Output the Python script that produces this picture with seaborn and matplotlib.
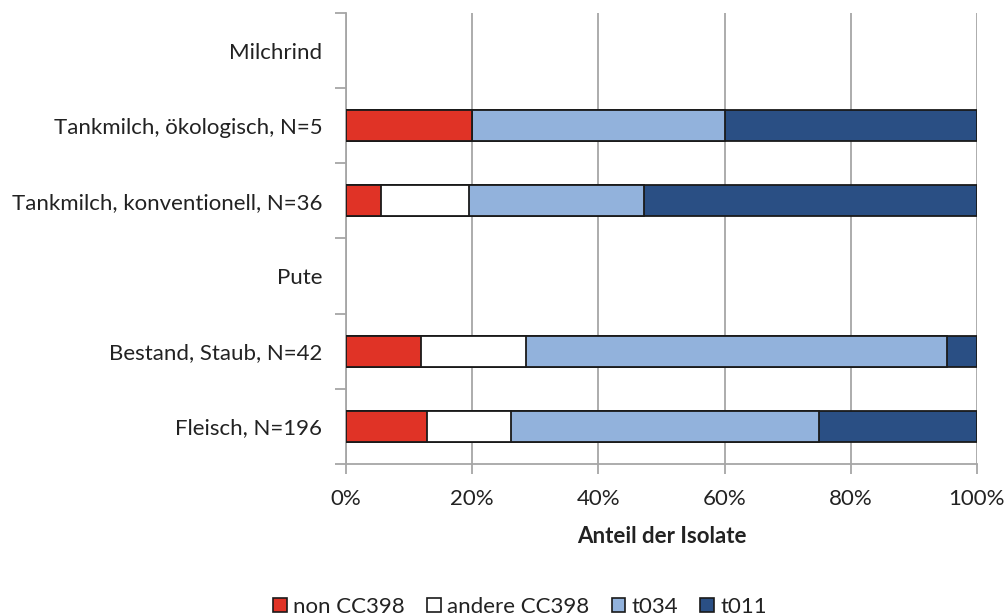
import numpy as np
import pandas as pd
import matplotlib
matplotlib.use("Agg")
import matplotlib.pyplot as plt
from matplotlib.patches import Patch
import seaborn as sns

# Categories from top to bottom; the group headers have no bars
categories = [
    "Milchrind",
    "Tankmilch, ökologisch, N=5",
    "Tankmilch, konventionell, N=36",
    "Pute",
    "Bestand, Staub, N=42",
    "Fleisch, N=196",
]
series = ["non CC398", "andere CC398", "t034", "t011"]

# Share of isolates per category (%), NaN = no data row
non_cc398 = [np.nan, 20.0, 5.6, np.nan, 11.9, 12.8]
andere_cc398 = [np.nan, 0.0, 13.9, np.nan, 16.7, 13.3]
t034 = [np.nan, 40.0, 27.8, np.nan, 66.7, 49.0]
t011 = [np.nan, 40.0, 52.8, np.nan, 4.8, 25.0]

colors = ["#E03326", "#FFFFFF", "#92B2DC", "#2A4F84"]

df = pd.DataFrame({
    "Kategorie": categories,
    "non CC398": non_cc398,
    "andere CC398": andere_cc398,
    "t034": t034,
    "t011": t011,
}).dropna()
vals = df[series].to_numpy()
cum = np.cumsum(vals, axis=1)
cum = cum / cum[:, -1:] * 100.0

sns.set_theme(style="white")
plt.rcParams["font.family"] = ["Lato", "DejaVu Sans"]

fig = plt.figure(figsize=(10.06, 6.16), dpi=100)
ax = fig.add_axes([0.344, 0.247, 0.627, 0.732])

# Stacked bars: draw cumulative totals from the outermost segment inwards
for i in range(len(series) - 1, -1, -1):
    d = pd.DataFrame({"Kategorie": df["Kategorie"], "Wert": cum[:, i]})
    sns.barplot(data=d, x="Wert", y="Kategorie", order=categories,
                color=colors[i], saturation=1, width=0.41,
                edgecolor="#1a1a1a", linewidth=1.3, ax=ax, zorder=3)

grey = "#A6A6A6"
txt = "#222222"
fs = 16
ax.set_xlim(0, 100)
ax.set_ylim(len(categories) - 0.5, -0.5)
ax.set_xticks(np.arange(0, 101, 20))
ax.set_xticklabels([f"{v}%" for v in range(0, 101, 20)], fontsize=fs, color=txt)
ax.xaxis.grid(True, color=grey, linewidth=1.3, zorder=0)
ax.yaxis.grid(False)
ax.set_axisbelow(True)

ax.set_yticks(range(len(categories)))
ax.set_yticklabels(categories, fontsize=fs, color=txt)
ax.set_yticks(np.arange(-0.5, len(categories), 1.0), minor=True)
ax.tick_params(axis="y", which="major", length=0, pad=17)
ax.tick_params(axis="y", which="minor", length=8, width=1.3, color=grey, direction="out", left=True)
ax.tick_params(axis="x", which="major", length=7, width=1.3, color=grey, direction="out", bottom=True, pad=11)

for s in ["top", "right"]:
    ax.spines[s].set_visible(False)
for s in ["left", "bottom"]:
    ax.spines[s].set_color(grey)
    ax.spines[s].set_linewidth(1.3)

ax.set_xlabel("Anteil der Isolate", fontsize=fs, fontweight="bold", labelpad=12, color=txt)
ax.set_ylabel("")

handles = [Patch(facecolor=c, edgecolor="#1a1a1a", linewidth=1.2) for c in colors]
fig.legend(handles, series, loc="center", bbox_to_anchor=(0.517, 0.015), ncol=4,
           frameon=False, fontsize=fs, handlelength=0.62, handleheight=0.62,
           handletextpad=0.28, columnspacing=1.0, labelcolor=txt)

fig.savefig("out.png", dpi=100)
